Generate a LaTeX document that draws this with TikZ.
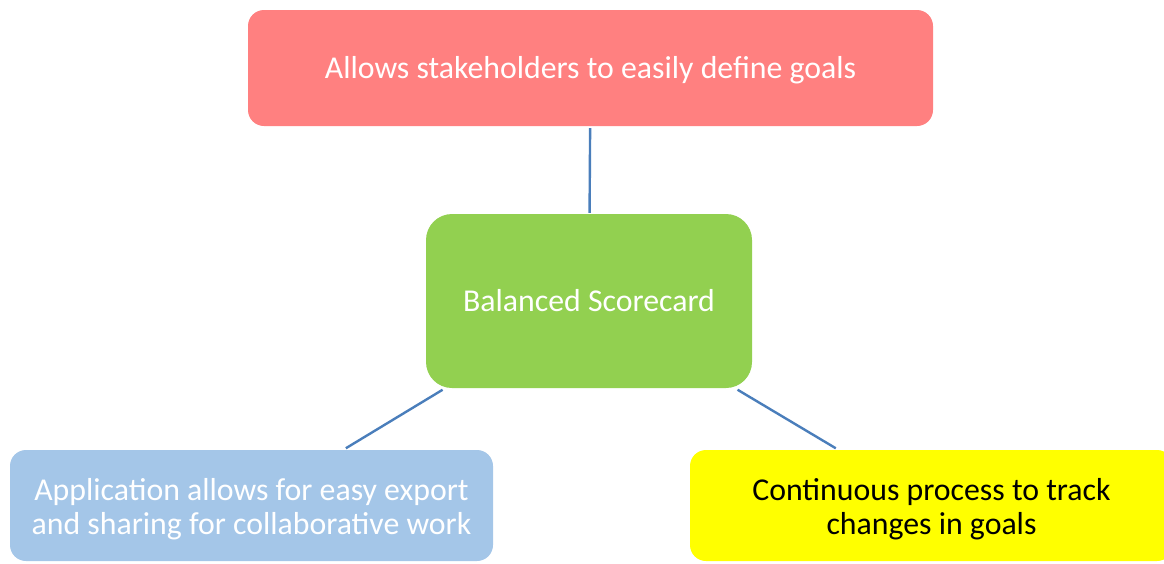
\documentclass[tikz,border=0pt]{standalone}
\usepackage{fontspec}
\setmainfont{Carlito}
\usepackage{xcolor}
\usetikzlibrary{positioning}
\definecolor{goalred}{RGB}{255,128,128}
\definecolor{cardgreen}{RGB}{146,208,80}
\definecolor{sharesky}{RGB}{164,198,232}
\definecolor{trackyellow}{RGB}{255,255,0}
\definecolor{linkblue}{RGB}{74,126,187}
\newcommand{\droptext}[1]{\rule{0pt}{#1}}

\begin{document}
\begin{tikzpicture}[x=1pt, y=-1pt,
  box/.style={rectangle, rounded corners=16pt, align=center, inner sep=0pt,
    font=\fontsize{31.8}{34.5}\selectfont},
  link/.style={draw=linkblue, line width=2.4pt}]
  \useasboundingbox (0,0) rectangle (1164,563);
  \clip (0,0) rectangle (1164,563);
  \node[box, fill=cardgreen, text=white, rounded corners=26pt,
    minimum width=326pt, minimum height=174pt] (scorecard) at (589,301) {Balanced Scorecard};
  \node[box, fill=goalred, text=white,
    minimum width=685pt, minimum height=116pt] (goals) at (590.5,68) {\droptext{26.5pt}Allows stakeholders to easily define goals};
  \node[box, fill=sharesky, text=white,
    minimum width=483pt, minimum height=111pt] (export) at (251.5,505.5) {\droptext{29pt}Application allows for easy export\\and sharing for collaborative work};
  \node[box, fill=trackyellow, text=black,
    minimum width=483pt, minimum height=111pt] (track) at (931.5,505.5) {\droptext{29pt}Continuous process to track\\changes in goals};

  \draw[link, shorten <=2pt, shorten >=1pt] (goals) -- (scorecard);
  \draw[link, shorten <=3pt, shorten >=3pt] (scorecard) -- (export);
  \draw[link, shorten <=3pt, shorten >=3pt] (scorecard) -- (track);
\end{tikzpicture}
\end{document}
